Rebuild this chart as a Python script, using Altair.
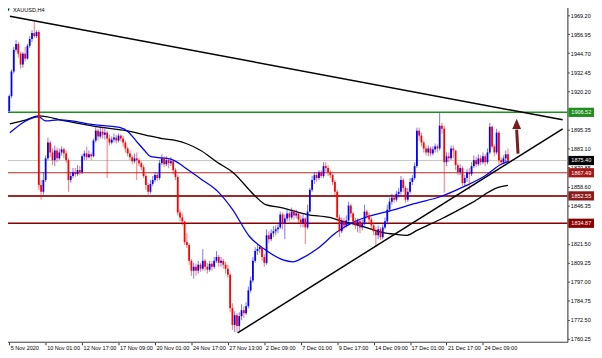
import altair as alt
import pandas as pd

# ---------------- data (XAUUSD H4 candles) ----------------
first_open = 1907.4
closes = [
    1917.0, 1932.9, 1946.9, 1950.7, 1944.4, 1937.4, 1944.4, 1941.2, 1949.5, 1953.9,
    1957.7, 1955.8, 1958.4, 1859.6, 1855.2, 1862.8, 1876.8, 1887.0, 1880.6, 1875.6,
    1881.9, 1876.8, 1880.6, 1882.6, 1880.0, 1875.6, 1862.8, 1865.4, 1867.9, 1866.6,
    1869.2, 1867.9, 1878.1, 1880.0, 1877.5, 1879.4, 1878.1, 1888.3, 1894.7, 1890.9,
    1894.0, 1892.1, 1893.4, 1889.6, 1887.0, 1888.9, 1890.2, 1888.3, 1891.5, 1889.6,
    1887.0, 1883.2, 1880.0, 1877.5, 1874.9, 1876.8, 1875.6, 1873.7, 1871.1, 1865.4,
    1859.6, 1855.2, 1860.3, 1862.8, 1866.0, 1864.1, 1873.7, 1876.8, 1873.0, 1875.6,
    1873.7, 1874.9, 1869.2, 1864.7, 1841.8, 1838.6, 1836.1, 1822.7, 1820.8, 1810.6,
    1804.2, 1806.8, 1804.2, 1808.1, 1805.5, 1810.6, 1806.8, 1804.9, 1808.7, 1806.8,
    1810.6, 1813.1, 1809.3, 1810.6, 1808.1, 1805.5, 1801.6, 1780.0, 1769.2, 1775.5,
    1768.5, 1774.9, 1778.7, 1776.8, 1781.3, 1791.5, 1797.9, 1810.6, 1817.0, 1818.2,
    1819.5, 1813.1, 1809.3, 1827.1, 1824.6, 1828.4, 1829.7, 1831.0, 1832.2, 1840.5,
    1834.8, 1838.0, 1841.2, 1838.6, 1842.4, 1839.9, 1841.2, 1837.3, 1834.8, 1838.0,
    1832.2, 1842.4, 1856.5, 1862.8, 1866.0, 1864.1, 1867.9, 1865.4, 1871.8, 1870.5,
    1867.9, 1866.0, 1861.5, 1855.2, 1838.6, 1829.7, 1836.1, 1833.5, 1836.7, 1846.3,
    1841.2, 1836.1, 1833.5, 1836.1, 1832.2, 1834.8, 1842.4, 1839.9, 1837.3, 1833.5,
    1829.7, 1827.1, 1831.0, 1825.9, 1832.2, 1836.1, 1843.7, 1848.8, 1851.4, 1850.1,
    1853.9, 1855.2, 1862.8, 1857.7, 1850.1, 1855.2, 1861.5, 1864.1, 1871.8, 1894.7,
    1891.5, 1887.0, 1883.2, 1880.6, 1883.2, 1880.0, 1882.6, 1884.5, 1883.2, 1897.9,
    1896.0, 1874.3, 1878.1, 1876.8, 1883.2, 1881.9, 1872.4, 1867.9, 1870.5, 1860.9,
    1864.1, 1867.9, 1866.6, 1871.8, 1875.6, 1873.0, 1876.8, 1874.3, 1878.1, 1874.3,
    1880.6, 1897.2, 1884.5, 1880.6, 1893.4, 1875.6, 1874.3, 1876.8, 1879.4, 1875.4,
]
highs = [
    1918.2, 1934.2, 1948.8, 1953.3, 1952.0, 1945.6, 1945.6, 1948.8, 1950.7, 1955.8,
    1959.6, 1964.7, 1959.6, 1959.6, 1862.8, 1867.9, 1878.7, 1890.2, 1888.3, 1883.2,
    1885.1, 1883.8, 1883.2, 1884.5, 1883.8, 1881.9, 1876.8, 1867.9, 1870.5, 1870.5,
    1872.4, 1871.8, 1879.4, 1881.9, 1884.5, 1881.9, 1880.6, 1889.6, 1897.2, 1895.9,
    1897.9, 1897.2, 1895.9, 1894.7, 1892.1, 1890.9, 1892.8, 1892.1, 1892.8, 1892.1,
    1891.5, 1888.3, 1884.5, 1881.9, 1878.7, 1880.0, 1880.6, 1876.8, 1874.9, 1872.4,
    1866.6, 1860.9, 1862.8, 1865.4, 1867.9, 1867.9, 1875.6, 1879.4, 1878.1, 1878.1,
    1876.8, 1877.5, 1875.6, 1870.5, 1866.0, 1843.7, 1841.2, 1836.1, 1828.4, 1822.0,
    1811.9, 1809.3, 1808.7, 1810.6, 1809.3, 1818.2, 1811.9, 1809.3, 1810.6, 1810.6,
    1813.1, 1816.9, 1814.4, 1813.1, 1811.9, 1809.9, 1808.1, 1802.9, 1783.2, 1778.1,
    1776.8, 1777.4, 1782.6, 1781.3, 1783.8, 1794.0, 1800.4, 1813.1, 1819.5, 1820.8,
    1820.8, 1819.5, 1815.0, 1831.0, 1829.7, 1831.0, 1832.9, 1833.5, 1834.2, 1842.4,
    1841.8, 1840.5, 1843.7, 1842.4, 1845.0, 1843.7, 1843.7, 1842.4, 1839.9, 1841.2,
    1838.6, 1846.9, 1857.7, 1865.4, 1867.9, 1867.9, 1869.2, 1869.2, 1874.3, 1874.3,
    1872.4, 1869.2, 1866.6, 1862.8, 1856.5, 1840.5, 1838.6, 1838.6, 1839.9, 1848.8,
    1847.5, 1842.4, 1838.6, 1838.0, 1837.3, 1837.3, 1846.9, 1843.7, 1841.8, 1838.6,
    1834.8, 1832.2, 1833.5, 1832.2, 1834.2, 1838.6, 1846.9, 1851.4, 1853.9, 1853.3,
    1855.8, 1857.7, 1865.4, 1864.1, 1859.0, 1857.7, 1864.1, 1866.0, 1874.3, 1896.6,
    1896.6, 1893.4, 1888.3, 1885.1, 1885.1, 1884.5, 1884.5, 1886.4, 1885.8, 1906.1,
    1899.8, 1897.9, 1880.6, 1880.6, 1885.1, 1885.1, 1881.9, 1873.7, 1873.0, 1871.8,
    1866.0, 1869.9, 1870.5, 1874.3, 1878.7, 1878.1, 1879.4, 1878.7, 1880.6, 1879.4,
    1883.2, 1899.8, 1897.9, 1885.8, 1895.9, 1894.7, 1877.5, 1878.7, 1881.9, 1883.2,
]
lows = [
    1906.1, 1915.7, 1931.6, 1945.6, 1941.8, 1934.8, 1935.4, 1939.3, 1940.5, 1948.2,
    1952.0, 1954.5, 1954.5, 1856.5, 1850.1, 1853.3, 1861.5, 1875.6, 1877.5, 1872.4,
    1871.8, 1874.3, 1875.6, 1878.7, 1876.8, 1873.7, 1855.2, 1860.9, 1864.1, 1864.7,
    1865.4, 1866.0, 1866.6, 1875.6, 1875.6, 1876.8, 1875.6, 1877.5, 1887.0, 1888.3,
    1889.6, 1889.6, 1888.9, 1864.1, 1885.1, 1885.8, 1887.0, 1886.4, 1887.0, 1887.7,
    1884.5, 1880.6, 1878.1, 1875.6, 1873.0, 1873.7, 1862.8, 1871.8, 1869.2, 1864.1,
    1856.5, 1853.3, 1853.9, 1859.0, 1861.5, 1862.2, 1862.8, 1872.4, 1871.1, 1871.8,
    1870.5, 1871.8, 1866.6, 1862.8, 1839.9, 1836.1, 1833.5, 1820.8, 1818.9, 1808.1,
    1801.0, 1799.1, 1801.0, 1802.3, 1803.6, 1804.2, 1804.2, 1802.3, 1803.6, 1804.2,
    1805.5, 1809.3, 1806.8, 1806.8, 1805.5, 1802.3, 1799.7, 1777.4, 1766.0, 1764.7,
    1764.7, 1765.4, 1772.4, 1773.6, 1775.5, 1780.0, 1790.2, 1796.6, 1809.3, 1814.4,
    1815.7, 1810.6, 1806.8, 1808.1, 1822.0, 1823.3, 1825.9, 1827.1, 1828.4, 1831.0,
    1831.0, 1824.6, 1836.1, 1836.1, 1837.3, 1837.3, 1838.0, 1834.8, 1832.2, 1832.2,
    1821.4, 1831.0, 1841.8, 1855.2, 1860.3, 1861.5, 1862.8, 1864.1, 1864.1, 1867.9,
    1865.4, 1864.1, 1859.6, 1852.6, 1836.1, 1825.9, 1828.4, 1831.0, 1832.2, 1834.2,
    1838.6, 1833.5, 1831.0, 1829.0, 1828.4, 1830.3, 1833.5, 1838.0, 1834.8, 1831.0,
    1827.1, 1819.5, 1824.6, 1824.0, 1824.6, 1831.0, 1834.2, 1842.4, 1846.9, 1848.2,
    1848.8, 1851.4, 1853.3, 1855.2, 1848.2, 1848.8, 1853.9, 1859.6, 1862.8, 1870.5,
    1888.3, 1884.5, 1880.6, 1878.7, 1878.1, 1878.1, 1878.7, 1880.6, 1880.6, 1881.9,
    1892.8, 1854.6, 1871.8, 1874.3, 1875.6, 1876.8, 1869.2, 1866.0, 1866.0, 1859.0,
    1859.0, 1861.5, 1856.5, 1865.4, 1870.5, 1871.1, 1871.8, 1872.4, 1873.0, 1871.8,
    1873.0, 1879.4, 1883.2, 1878.1, 1879.4, 1873.0, 1872.4, 1873.0, 1874.3, 1874.3,
]

# moving averages (bar index, price)
ma_slow_idx = [0.3, 7.5, 13, 24.5, 41.5, 51.3, 60.7, 67.1, 73.4, 77.7, 84.1, 91.3, 98.1,
               108.3, 112.6, 119.4, 130.9, 140.7, 146.6, 155.1, 163.7, 169.2, 174.7,
               179.0, 189.2, 203.2, 214.7, 219.0]
ma_slow_val = [1899.1, 1901.7, 1904.2, 1901.0, 1896.6, 1894.7, 1891.5, 1889.6, 1888.3,
               1886.4, 1881.9, 1874.3, 1867.9, 1852.0, 1846.9, 1845.0, 1840.5, 1838.6,
               1836.1, 1832.9, 1829.0, 1827.8, 1827.1, 1830.3, 1837.3, 1848.2, 1858.0,
               1859.3]
ma_fast_idx = [0.3, 13, 16, 21.5, 27.5, 34.3, 41.5, 48.8, 52.2, 55.6, 59.4, 62, 71.3,
               76.9, 84.1, 91.3, 98.1, 105.4, 112.6, 120.2, 124.5, 128.8, 135.1, 143.7,
               150.9, 157.7, 169.2, 177.7, 189.2, 200.3, 208.8, 216.0, 219.4]
ma_fast_val = [1893.4, 1903.6, 1901.0, 1901.7, 1901.0, 1899.1, 1897.9, 1896.6, 1894.0,
               1888.3, 1881.9, 1878.1, 1876.2, 1871.1, 1863.5, 1855.8, 1843.7, 1826.5,
               1817.6, 1811.2, 1810.0, 1812.5, 1818.2, 1829.0, 1835.4, 1839.3, 1843.7,
               1847.5, 1852.0, 1859.0, 1865.4, 1873.0, 1875.0]

# trend lines (bar index, price)
desc_idx = [0.3, 243.0]
desc_val = [1968.6, 1901.7]
asc_idx = [100.3, 243.0]
asc_val = [1764.1, 1895.9]

# horizontal levels
levels = [1906.52, 1875.40, 1867.49, 1852.55, 1834.87]

# arrow (bar index, price)
arrow_idx = [223.4, 222.8]
arrow_val = [1879.8, 1895.4]
arrow_head_idx = [222.8]
arrow_head_val = [1899.1]

x_ticks = [0, 16, 32, 48, 64, 80, 96, 112, 128, 144, 160, 176, 192, 208]
x_tick_labels = ["5 Nov 2020", "10 Nov 01:00", "12 Nov 17:00", "17 Nov 09:00",
                 "20 Nov 01:00", "24 Nov 17:00", "27 Nov 13:00", "2 Dec 09:00",
                 "7 Dec 01:00", "9 Dec 17:00", "14 Dec 09:00", "17 Dec 01:00",
                 "21 Dec 17:00", "24 Dec 09:00"]
y_ticks = [1969.20, 1956.95, 1944.70, 1932.45, 1920.20, 1895.35, 1883.10, 1870.85,
           1858.60, 1846.35, 1821.50, 1809.25, 1797.00, 1784.75, 1772.50, 1760.25]

# ---------------- styles ----------------
LEVEL_LINE_COLORS = ["#1f8f1f", "#c8c8c8", "#b52a2a", "#9b2c2c", "#8b0000"]
LEVEL_LINE_WIDTHS = [1.5, 1, 1.2, 2, 1.5]
LEVEL_BOX_COLORS = ["#1f8f1f", "#000000", "#a51818", "#8b1a1a", "#8b0000"]
FONT = "Liberation Sans"

opens = [first_open] + closes[:-1]
candles = pd.DataFrame({
    "i": list(range(len(closes))),
    "open": opens, "close": closes, "high": highs, "low": lows,
})
candles["dir"] = ["up" if c >= o else "down" for o, c in zip(opens, closes)]

xscale = alt.Scale(domain=[-0.1, 242.9], nice=False, zero=False)
yscale = alt.Scale(domain=[1758.3, 1975.6], nice=False, zero=False)
label_js = "[" + ",".join("'" + s + "'" for s in x_tick_labels) + "]"
x_axis = alt.Axis(values=x_ticks, labelExpr=label_js + "[round(datum.value/16)]",
                  title=None, grid=False, tickSize=3, labelAlign="left",
                  labelFontSize=5.6, labelFont=FONT, labelColor="#000000",
                  labelPadding=1, labelOffset=1, labelOverlap=False,
                  domainColor="#6b6b6b", tickColor="#333333")
y_axis = alt.Axis(orient="right", values=y_ticks, format=".2f", title=None, grid=False,
                  tickSize=2, labelFontSize=5.6, labelFont=FONT, labelColor="#000000",
                  labelPadding=1, labelOverlap=False, domainColor="#6b6b6b",
                  tickColor="#333333")


def X(field):
    return alt.X(f"{field}:Q", scale=xscale, axis=x_axis)


def Y(field):
    return alt.Y(f"{field}:Q", scale=yscale, axis=y_axis)


color_dir = alt.Color("dir:N", scale=alt.Scale(domain=["up", "down"],
                                               range=["#0000ff", "#ff0000"]), legend=None)

layers = []

# level lines
for price, col, w in zip(levels, LEVEL_LINE_COLORS, LEVEL_LINE_WIDTHS):
    layers.append(alt.Chart(pd.DataFrame({"p": [price]})).mark_rule(
        color=col, strokeWidth=w).encode(y=Y("p")))

# moving averages
layers.append(alt.Chart(pd.DataFrame({"i": ma_slow_idx, "p": ma_slow_val})).mark_line(
    color="#000000", strokeWidth=1.3, interpolate="monotone").encode(x=X("i"), y=Y("p")))
layers.append(alt.Chart(pd.DataFrame({"i": ma_fast_idx, "p": ma_fast_val})).mark_line(
    color="#0000ff", strokeWidth=1.3, interpolate="monotone").encode(x=X("i"), y=Y("p")))

# candles
layers.append(alt.Chart(candles).mark_rule(strokeWidth=1, opacity=0.55).encode(
    x=X("i"), y=Y("low"), y2="high", color=color_dir))
layers.append(alt.Chart(candles).mark_bar(size=1.8).encode(
    x=X("i"), y=Y("open"), y2="close", color=color_dir))

# trend lines
layers.append(alt.Chart(pd.DataFrame({"i": desc_idx, "p": desc_val})).mark_line(
    color="#000000", strokeWidth=1.5, clip=True).encode(x=X("i"), y=Y("p")))
layers.append(alt.Chart(pd.DataFrame({"i": asc_idx, "p": asc_val})).mark_line(
    color="#000000", strokeWidth=1.5, clip=True).encode(x=X("i"), y=Y("p")))

# arrow
layers.append(alt.Chart(pd.DataFrame({"i": arrow_idx, "p": arrow_val})).mark_line(
    color="#7b1c1c", strokeWidth=3).encode(x=X("i"), y=Y("p")))
layers.append(alt.Chart(pd.DataFrame({"i": arrow_head_idx, "p": arrow_head_val})).mark_point(
    shape="M0,-1L0.85,1L-0.85,1Z", size=110, filled=True, opacity=1,
    color="#7b1c1c", strokeWidth=0).encode(x=X("i"), y=Y("p")))

# price boxes on the axis
for price, col in zip(levels, LEVEL_BOX_COLORS):
    d = pd.DataFrame({"p": [price], "t": [f"{price:.2f}"]})
    layers.append(alt.Chart(d).mark_point(
        shape="M-1,-0.36H1V0.36H-1Z", size=676, filled=True, opacity=1,
        color=col, strokeWidth=0).encode(x=alt.value(585), y=Y("p")))
    layers.append(alt.Chart(d).mark_text(
        align="left", baseline="middle", fontSize=5.6, font=FONT, color="#ffffff").encode(
        x=alt.value(575), y=Y("p"), text="t:N"))

# symbol caption
layers.append(alt.Chart(pd.DataFrame({"t": ["XAUUSD,H4"]})).mark_text(
    align="left", baseline="middle", fontSize=5.6, font=FONT, color="#000000").encode(
    x=alt.value(9), y=alt.value(4.5), text="t:N"))
layers.append(alt.Chart(pd.DataFrame({"t": ["\u25bc"]})).mark_text(
    align="left", baseline="middle", fontSize=4, font="DejaVu Sans", color="#000000").encode(
    x=alt.value(2.5), y=alt.value(4.5), text="t:N"))

chart = alt.layer(*layers).properties(
    width=571, height=341,
    padding={"left": -5, "top": -5, "right": 0, "bottom": 0},
    background="#ffffff",
).configure_view(stroke="#6b6b6b", strokeWidth=1)

chart.save("out.html", embed_options={"renderer": "svg", "actions": False})
